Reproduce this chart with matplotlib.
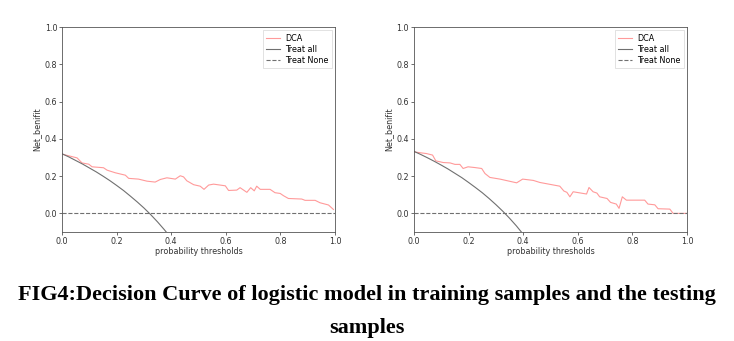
import matplotlib
matplotlib.use('Agg')
import matplotlib.pyplot as plt

# DCA curves (threshold, net benefit)
train_t = [0.0, 0.055, 0.073, 0.098, 0.11, 0.152, 0.165, 0.195, 0.232, 0.244, 0.28, 0.311,
           0.341, 0.36, 0.384, 0.415, 0.433, 0.445, 0.457, 0.482, 0.506, 0.52, 0.537, 0.555,
           0.598, 0.61, 0.64, 0.652, 0.677, 0.691, 0.704, 0.713, 0.726, 0.762, 0.78, 0.799,
           0.811, 0.829, 0.878, 0.89, 0.927, 0.945, 0.976, 0.994]
train_nb = [0.318, 0.298, 0.271, 0.264, 0.25, 0.245, 0.232, 0.218, 0.205, 0.188, 0.184, 0.173,
            0.168, 0.182, 0.191, 0.184, 0.202, 0.196, 0.175, 0.154, 0.146, 0.129, 0.152, 0.157,
            0.148, 0.123, 0.125, 0.138, 0.113, 0.138, 0.121, 0.146, 0.129, 0.129, 0.111, 0.107,
            0.095, 0.080, 0.077, 0.070, 0.070, 0.057, 0.045, 0.021]

test_t = [0.0, 0.046, 0.068, 0.08, 0.107, 0.132, 0.15, 0.168, 0.18, 0.198, 0.223, 0.248, 0.26,
          0.278, 0.315, 0.376, 0.398, 0.437, 0.461, 0.534, 0.549, 0.56, 0.571, 0.583, 0.632,
          0.641, 0.656, 0.67, 0.68, 0.707, 0.72, 0.741, 0.751, 0.763, 0.778, 0.845, 0.857,
          0.882, 0.894, 0.937, 0.949, 1.0]
test_nb = [0.330, 0.321, 0.313, 0.282, 0.273, 0.271, 0.263, 0.263, 0.241, 0.25, 0.246, 0.241,
           0.214, 0.193, 0.184, 0.164, 0.184, 0.177, 0.166, 0.146, 0.12, 0.113, 0.089, 0.116,
           0.104, 0.139, 0.116, 0.109, 0.089, 0.080, 0.059, 0.05, 0.027, 0.089, 0.071, 0.071,
           0.05, 0.046, 0.025, 0.023, 0.0, 0.0]

# Treat all curves
all_t = [0.0, 0.025, 0.05, 0.075, 0.1, 0.125, 0.15, 0.175, 0.2, 0.225, 0.25, 0.275, 0.3,
         0.325, 0.35, 0.375, 0.4]
train_all = [0.320, 0.303, 0.284, 0.265, 0.244, 0.223, 0.200, 0.176, 0.150, 0.123, 0.093,
             0.062, 0.029, -0.007, -0.046, -0.088, -0.133]
test_all = [0.333, 0.316, 0.298, 0.279, 0.259, 0.238, 0.215, 0.192, 0.166, 0.139, 0.111,
            0.080, 0.047, 0.012, -0.026, -0.067, -0.112]

none_t = [0.0, 1.0]
none_nb = [0.0, 0.0]

fs = 5.8
fig = plt.figure(figsize=(7.34, 3.41), dpi=100)

panels = [(0.0845, train_t, train_nb, train_all), (0.564, test_t, test_nb, test_all)]
for x0, t, nb, nb_all in panels:
    ax = fig.add_axes([x0, 0.3196, 0.372, 0.601])
    ax.plot(t, nb, color='#ff9a9a', lw=0.8, label='DCA')
    ax.plot(all_t, nb_all, color='#707070', lw=0.8, label='Treat all')
    ax.plot(none_t, none_nb, color='#707070', lw=0.8, ls='--', label='Treat None')
    ax.set_xlim(0, 1)
    ax.set_ylim(-0.1, 1.0)
    ax.set_xticks([0, 0.2, 0.4, 0.6, 0.8, 1.0])
    ax.set_yticks([0, 0.2, 0.4, 0.6, 0.8, 1.0])
    ax.tick_params(labelsize=fs, length=2, width=0.5, pad=1.5, colors='#333333')
    for s in ax.spines.values():
        s.set_linewidth(0.6)
        s.set_color('#555555')
    ax.set_xlabel('probability thresholds', fontsize=fs, labelpad=1, color='#333333')
    ax.set_ylabel('Net_benifit', fontsize=fs, labelpad=2, color='#333333')
    leg = ax.legend(loc='upper right', fontsize=fs, handlelength=1.8, borderpad=0.4,
                    labelspacing=0.25, handletextpad=0.6, borderaxespad=0.4,
                    framealpha=1, fancybox=False)
    leg.get_frame().set_linewidth(0.4)

# caption below the panels, two centred lines
fig.text(0.5, (341 - 300) / 341,
         'FIG4:Decision Curve of logistic model in training samples and the testing',
         ha='center', va='baseline', fontsize=16, family='Liberation Serif', weight='bold')
fig.text(0.5, (341 - 333) / 341, 'samples', ha='center', va='baseline', fontsize=16,
         family='Liberation Serif', weight='bold')

fig.savefig('out.png', dpi=100)
